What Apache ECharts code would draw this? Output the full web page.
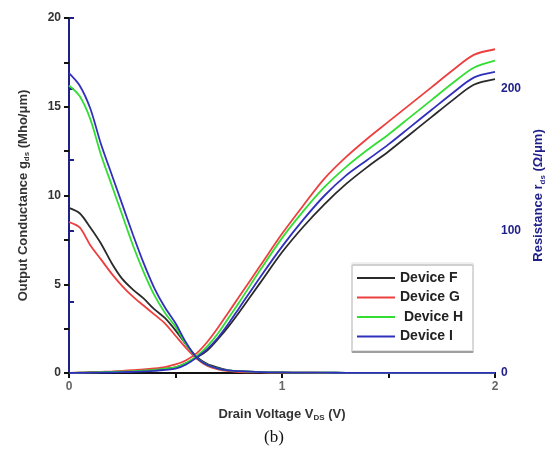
<!DOCTYPE html>
<html>
<head>
<meta charset="utf-8">
<script src="https://cdn.jsdelivr.net/npm/echarts@6/dist/echarts.min.js"></script>
<style>html,body{margin:0;padding:0;background:#fff}#c{width:548px;height:456px}</style>
</head>
<body>
<div id="c"></div>
<script>
// Drain voltage samples (V)
const vds = [0, 0.05, 0.1, 0.15, 0.2, 0.25, 0.3, 0.35, 0.4, 0.45, 0.5, 0.55, 0.6, 0.65, 0.7, 0.75, 0.8, 0.9, 1.0, 1.1, 1.2, 1.3, 1.4, 1.5, 1.6, 1.7, 1.8, 1.9, 2.0];
const deviceNames = ['Device F', 'Device G', ' Device H', 'Device I'];
// Output conductance g_ds (Mho/um), left axis
const gdsF = [9.3, 9.0, 8.2, 7.3, 6.2, 5.3, 4.7, 4.2, 3.6, 3.1, 2.4, 1.6, 0.9, 0.5, 0.3, 0.15, 0.1, 0.05, 0.03, 0.02, 0.02, 0.01, 0.01, 0.01, 0.01, 0.01, 0.01, 0.01, 0.01];
const gdsG = [8.5, 8.2, 7.2, 6.4, 5.6, 4.9, 4.3, 3.8, 3.3, 2.8, 2.1, 1.4, 0.8, 0.4, 0.2, 0.1, 0.05, 0.03, 0.02, 0.02, 0.01, 0.01, 0.01, 0.01, 0.01, 0.01, 0.01, 0.01, 0.01];
const gdsH = [16.2, 15.6, 14.3, 12.3, 10.6, 8.9, 7.2, 5.7, 4.4, 3.4, 2.6, 1.6, 0.85, 0.45, 0.25, 0.15, 0.1, 0.05, 0.03, 0.02, 0.02, 0.01, 0.01, 0.01, 0.01, 0.01, 0.01, 0.01, 0.01];
const gdsI = [16.9, 16.2, 14.9, 12.9, 11.2, 9.5, 7.8, 6.2, 4.8, 3.7, 2.8, 1.7, 0.85, 0.45, 0.25, 0.15, 0.1, 0.05, 0.03, 0.02, 0.02, 0.01, 0.01, 0.01, 0.01, 0.01, 0.01, 0.01, 0.01];
// Resistance r_ds (Ohm/um), right axis
const rdsF = [0, 0.2, 0.4, 0.6, 0.8, 1.0, 1.3, 1.7, 2.2, 3.0, 4.0, 7, 11, 16, 24, 33, 43, 64, 85, 103, 119, 133, 145, 156, 168, 180, 192, 203, 207];
const rdsG = [0, 0.3, 0.5, 0.8, 1.0, 1.5, 2.0, 2.5, 3.2, 4.2, 6.0, 9, 14, 22, 32, 43, 54, 76, 98, 118, 137, 152, 165, 177, 189, 201, 213, 224, 228];
const rdsH = [0, 0.2, 0.4, 0.6, 0.8, 1.0, 1.3, 1.7, 2.2, 3.0, 4.0, 7, 12, 19, 28, 39, 50, 73, 95, 114, 131, 145, 157, 168, 180, 192, 204, 215, 220];
const rdsI = [0, 0.1, 0.2, 0.3, 0.4, 0.6, 0.8, 1.1, 1.5, 2.2, 3.0, 6, 11, 17, 25, 35, 46, 68, 89, 108, 125, 139, 150, 161, 173, 185, 197, 208, 212];
const colors = ['#2a2a2a', '#ec4040', '#33de33', '#3030bc'];

const gds = [gdsF, gdsG, gdsH, gdsI];
const rds = [rdsF, rdsG, rdsH, rdsI];
const pair = arr => vds.map((x, i) => [x, arr[i]]);
const series = [];
for (let k = 0; k < 4; k++) {
  series.push({name: deviceNames[k], type: 'line', yAxisIndex: 0, data: pair(gds[k]), smooth: 0.3, showSymbol: false, symbol: 'none', lineStyle: {width: 1.8, color: colors[k]}, itemStyle: {color: colors[k]}, z: 3});
  series.push({name: deviceNames[k], type: 'line', yAxisIndex: 1, data: pair(rds[k]), smooth: 0.3, showSymbol: false, symbol: 'none', lineStyle: {width: 1.8, color: colors[k]}, itemStyle: {color: colors[k]}, z: 3});
}
const navy = '#1f1f88';
const font = '"Liberation Sans", Arial, sans-serif';
const chart = echarts.init(document.getElementById('c'), null, {renderer: 'canvas'});
chart.setOption({
  animation: false,
  backgroundColor: '#fff',
  title: {text: '(b)', left: 'center', top: 424, textStyle: {fontFamily: '"Liberation Serif", "Times New Roman", serif', fontWeight: 'normal', fontSize: 17, color: '#111'}},
  grid: {left: 69, right: 53, top: 18, bottom: 83, containLabel: false, outerBoundsMode: 'none'},
  legend: {
    data: deviceNames, orient: 'vertical', left: 352, top: 263, itemGap: 5.5, itemWidth: 38, itemHeight: 14,
    icon: 'path://M0,6 L38,6 L38,8 L0,8 Z',
    backgroundColor: '#fff', borderColor: '#e0e0e0', borderWidth: 1, padding: [8, 10, 7, 5],
    shadowColor: '#a0a0a0', shadowOffsetX: 0, shadowOffsetY: 2, shadowBlur: 0,
    textStyle: {fontFamily: font, fontWeight: 'bold', fontSize: 14, color: '#222'}
  },
  xAxis: [{
    type: 'value', min: 0, max: 2, interval: 0.5,
    name: 'Drain Voltage V{sub|DS} (V)', nameLocation: 'middle', nameGap: 33,
    nameTextStyle: {fontFamily: font, fontWeight: 'bold', fontSize: 13, color: '#333', rich: {sub: {fontFamily: font, fontWeight: 'bold', fontSize: 8, color: '#333', padding: [8, 0, 0, 0]}}},
    axisLine: {lineStyle: {color: '#111', width: 2}},
    axisTick: {length: 5, lineStyle: {color: '#111', width: 2}},
    axisLabel: {fontFamily: font, fontWeight: 'bold', fontSize: 12, color: '#666', margin: 8, formatter: v => (Number.isInteger(v) ? String(v) : '')},
    splitLine: {show: false}
  }, {
    type: 'value', min: 0, max: 2, position: 'top',
    axisLine: {show: true, lineStyle: {color: '#111', width: 2}}, axisTick: {show: false}, axisLabel: {show: false}, splitLine: {show: false}
  }],
  yAxis: [{
    type: 'value', min: 0, max: 20, interval: 2.5,
    name: 'Output Conductance g{sub|ds} (Mho/μm)', nameLocation: 'middle', nameGap: 38, nameRotate: 90,
    nameTextStyle: {fontFamily: font, fontWeight: 'bold', fontSize: 13, color: '#333', rich: {sub: {fontFamily: font, fontWeight: 'bold', fontSize: 8, color: '#333', padding: [8, 0, 0, 0]}}},
    axisLine: {show: true, lineStyle: {color: '#111', width: 2}},
    axisTick: {length: 5, lineStyle: {color: '#111', width: 2}},
    axisLabel: {fontFamily: font, fontWeight: 'bold', fontSize: 12, color: '#333', margin: 8, formatter: v => (v % 5 === 0 ? String(v) : '')},
    splitLine: {show: false}
  }, {
    type: 'value', min: 0, max: 250, interval: 50, position: 'right',
    name: 'Resistance r{sub|ds} (Ω/μm)', nameLocation: 'middle', nameGap: 30, nameRotate: 90,
    nameTextStyle: {fontFamily: font, fontWeight: 'bold', fontSize: 13, color: navy, rich: {sub: {fontFamily: font, fontWeight: 'bold', fontSize: 8, color: navy, padding: [8, 0, 0, 0]}}},
    axisLine: {show: true, lineStyle: {color: navy, width: 2}},
    axisTick: {length: 5, lineStyle: {color: navy, width: 2}},
    axisLabel: {fontFamily: font, fontWeight: 'bold', fontSize: 12, color: navy, margin: 6, formatter: v => (v % 100 === 0 ? String(v) : '')},
    splitLine: {show: false}
  }],
  series: series
});
</script>
</body>
</html>
